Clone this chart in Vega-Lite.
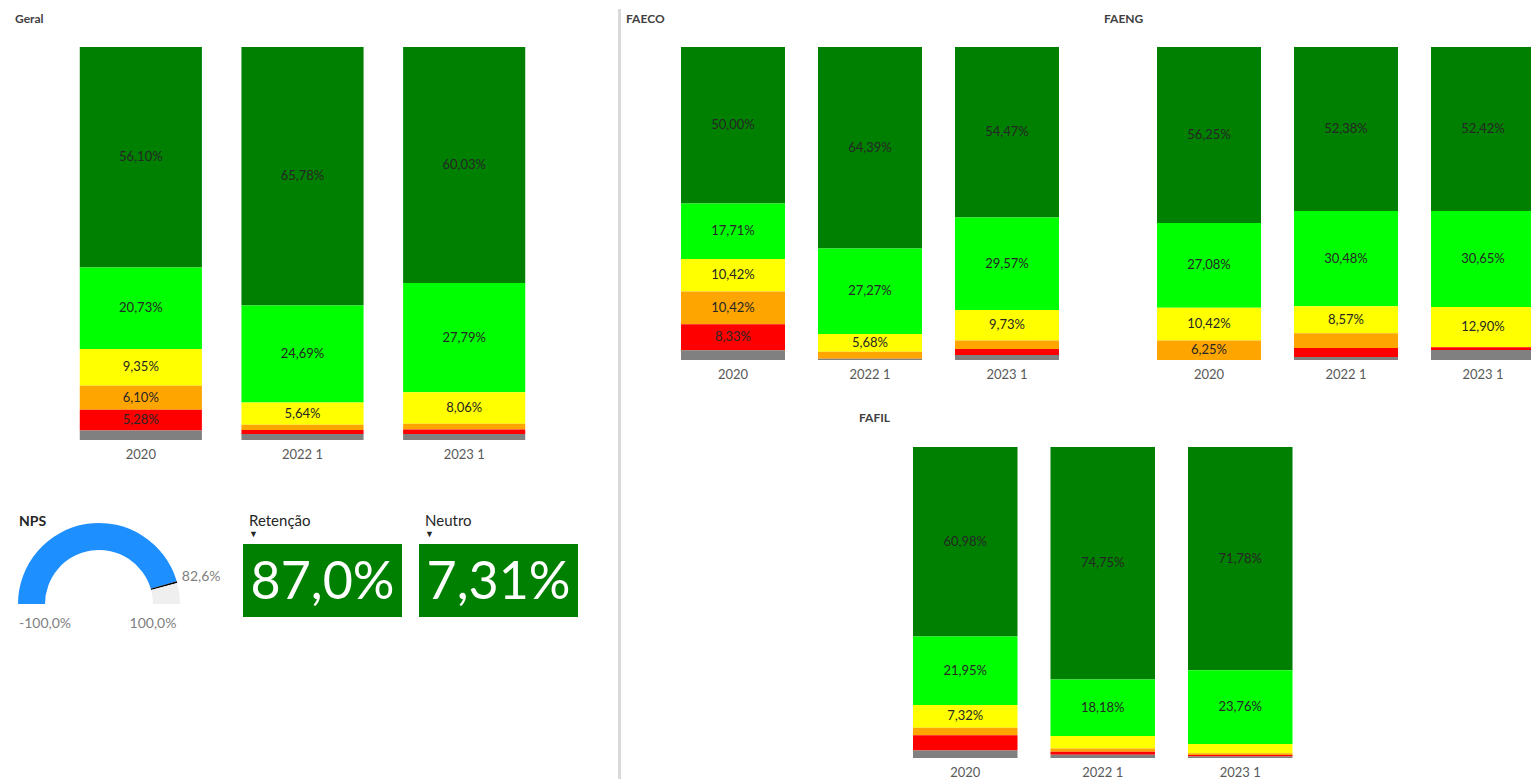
{
  "$schema": "https://vega.github.io/schema/vega-lite/v6.json",
  "padding": {"left": 15, "top": 9, "right": 0, "bottom": 0},
  "background": "white",
  "config": {
    "view": {"stroke": null},
    "font": "Lato",
    "locale": {"number": {"decimal": ",", "thousands": ".", "grouping": [3], "currency": ["R$", ""]}},
    "axis": {"title": null, "domain": false, "ticks": false, "grid": false, "labelAngle": 0, "labelFont": "Lato", "labelFontSize": 13, "labelColor": "#595959", "labelPadding": 8},
    "title": {"font": "Lato", "fontSize": 12, "fontWeight": "bold", "color": "#404040", "anchor": "start", "frame": "group"}
  },
  "datasets": {
    "bars": [
      {"panel": "Geral", "year": "2020", "cat": "Muito satisfeito", "k": 6, "p": 0.5610},
      {"panel": "Geral", "year": "2020", "cat": "Satisfeito", "k": 5, "p": 0.2073},
      {"panel": "Geral", "year": "2020", "cat": "Neutro", "k": 4, "p": 0.0935},
      {"panel": "Geral", "year": "2020", "cat": "Insatisfeito", "k": 3, "p": 0.0610},
      {"panel": "Geral", "year": "2020", "cat": "Muito insatisfeito", "k": 2, "p": 0.0528},
      {"panel": "Geral", "year": "2020", "cat": "Sem resposta", "k": 1, "p": 0.0244},
      {"panel": "Geral", "year": "2022 1", "cat": "Muito satisfeito", "k": 6, "p": 0.6578},
      {"panel": "Geral", "year": "2022 1", "cat": "Satisfeito", "k": 5, "p": 0.2469},
      {"panel": "Geral", "year": "2022 1", "cat": "Neutro", "k": 4, "p": 0.0564},
      {"panel": "Geral", "year": "2022 1", "cat": "Insatisfeito", "k": 3, "p": 0.0137},
      {"panel": "Geral", "year": "2022 1", "cat": "Muito insatisfeito", "k": 2, "p": 0.0102},
      {"panel": "Geral", "year": "2022 1", "cat": "Sem resposta", "k": 1, "p": 0.0150},
      {"panel": "Geral", "year": "2023 1", "cat": "Muito satisfeito", "k": 6, "p": 0.6003},
      {"panel": "Geral", "year": "2023 1", "cat": "Satisfeito", "k": 5, "p": 0.2779},
      {"panel": "Geral", "year": "2023 1", "cat": "Neutro", "k": 4, "p": 0.0806},
      {"panel": "Geral", "year": "2023 1", "cat": "Insatisfeito", "k": 3, "p": 0.0145},
      {"panel": "Geral", "year": "2023 1", "cat": "Muito insatisfeito", "k": 2, "p": 0.0116},
      {"panel": "Geral", "year": "2023 1", "cat": "Sem resposta", "k": 1, "p": 0.0151},

      {"panel": "FAECO", "year": "2020", "cat": "Muito satisfeito", "k": 6, "p": 0.5000},
      {"panel": "FAECO", "year": "2020", "cat": "Satisfeito", "k": 5, "p": 0.1771},
      {"panel": "FAECO", "year": "2020", "cat": "Neutro", "k": 4, "p": 0.1042},
      {"panel": "FAECO", "year": "2020", "cat": "Insatisfeito", "k": 3, "p": 0.1042},
      {"panel": "FAECO", "year": "2020", "cat": "Muito insatisfeito", "k": 2, "p": 0.0833},
      {"panel": "FAECO", "year": "2020", "cat": "Sem resposta", "k": 1, "p": 0.0312},
      {"panel": "FAECO", "year": "2022 1", "cat": "Muito satisfeito", "k": 6, "p": 0.6439},
      {"panel": "FAECO", "year": "2022 1", "cat": "Satisfeito", "k": 5, "p": 0.2727},
      {"panel": "FAECO", "year": "2022 1", "cat": "Neutro", "k": 4, "p": 0.0568},
      {"panel": "FAECO", "year": "2022 1", "cat": "Insatisfeito", "k": 3, "p": 0.0227},
      {"panel": "FAECO", "year": "2022 1", "cat": "Sem resposta", "k": 1, "p": 0.0039},
      {"panel": "FAECO", "year": "2023 1", "cat": "Muito satisfeito", "k": 6, "p": 0.5447},
      {"panel": "FAECO", "year": "2023 1", "cat": "Satisfeito", "k": 5, "p": 0.2957},
      {"panel": "FAECO", "year": "2023 1", "cat": "Neutro", "k": 4, "p": 0.0973},
      {"panel": "FAECO", "year": "2023 1", "cat": "Insatisfeito", "k": 3, "p": 0.0272},
      {"panel": "FAECO", "year": "2023 1", "cat": "Muito insatisfeito", "k": 2, "p": 0.0195},
      {"panel": "FAECO", "year": "2023 1", "cat": "Sem resposta", "k": 1, "p": 0.0156},

      {"panel": "FAENG", "year": "2020", "cat": "Muito satisfeito", "k": 6, "p": 0.5625},
      {"panel": "FAENG", "year": "2020", "cat": "Satisfeito", "k": 5, "p": 0.2708},
      {"panel": "FAENG", "year": "2020", "cat": "Neutro", "k": 4, "p": 0.1042},
      {"panel": "FAENG", "year": "2020", "cat": "Insatisfeito", "k": 3, "p": 0.0625},
      {"panel": "FAENG", "year": "2022 1", "cat": "Muito satisfeito", "k": 6, "p": 0.5238},
      {"panel": "FAENG", "year": "2022 1", "cat": "Satisfeito", "k": 5, "p": 0.3048},
      {"panel": "FAENG", "year": "2022 1", "cat": "Neutro", "k": 4, "p": 0.0857},
      {"panel": "FAENG", "year": "2022 1", "cat": "Insatisfeito", "k": 3, "p": 0.0476},
      {"panel": "FAENG", "year": "2022 1", "cat": "Muito insatisfeito", "k": 2, "p": 0.0286},
      {"panel": "FAENG", "year": "2022 1", "cat": "Sem resposta", "k": 1, "p": 0.0095},
      {"panel": "FAENG", "year": "2023 1", "cat": "Muito satisfeito", "k": 6, "p": 0.5242},
      {"panel": "FAENG", "year": "2023 1", "cat": "Satisfeito", "k": 5, "p": 0.3065},
      {"panel": "FAENG", "year": "2023 1", "cat": "Neutro", "k": 4, "p": 0.1290},
      {"panel": "FAENG", "year": "2023 1", "cat": "Muito insatisfeito", "k": 2, "p": 0.0081},
      {"panel": "FAENG", "year": "2023 1", "cat": "Sem resposta", "k": 1, "p": 0.0323},

      {"panel": "FAFIL", "year": "2020", "cat": "Muito satisfeito", "k": 6, "p": 0.6098},
      {"panel": "FAFIL", "year": "2020", "cat": "Satisfeito", "k": 5, "p": 0.2195},
      {"panel": "FAFIL", "year": "2020", "cat": "Neutro", "k": 4, "p": 0.0732},
      {"panel": "FAFIL", "year": "2020", "cat": "Insatisfeito", "k": 3, "p": 0.0244},
      {"panel": "FAFIL", "year": "2020", "cat": "Muito insatisfeito", "k": 2, "p": 0.0488},
      {"panel": "FAFIL", "year": "2020", "cat": "Sem resposta", "k": 1, "p": 0.0244},
      {"panel": "FAFIL", "year": "2022 1", "cat": "Muito satisfeito", "k": 6, "p": 0.7475},
      {"panel": "FAFIL", "year": "2022 1", "cat": "Satisfeito", "k": 5, "p": 0.1818},
      {"panel": "FAFIL", "year": "2022 1", "cat": "Neutro", "k": 4, "p": 0.0404},
      {"panel": "FAFIL", "year": "2022 1", "cat": "Insatisfeito", "k": 3, "p": 0.0101},
      {"panel": "FAFIL", "year": "2022 1", "cat": "Muito insatisfeito", "k": 2, "p": 0.0101},
      {"panel": "FAFIL", "year": "2022 1", "cat": "Sem resposta", "k": 1, "p": 0.0101},
      {"panel": "FAFIL", "year": "2023 1", "cat": "Muito satisfeito", "k": 6, "p": 0.7178},
      {"panel": "FAFIL", "year": "2023 1", "cat": "Satisfeito", "k": 5, "p": 0.2376},
      {"panel": "FAFIL", "year": "2023 1", "cat": "Neutro", "k": 4, "p": 0.0297},
      {"panel": "FAFIL", "year": "2023 1", "cat": "Insatisfeito", "k": 3, "p": 0.0050},
      {"panel": "FAFIL", "year": "2023 1", "cat": "Muito insatisfeito", "k": 2, "p": 0.0050},
      {"panel": "FAFIL", "year": "2023 1", "cat": "Sem resposta", "k": 1, "p": 0.0050}
    ],
    "gauge": [
      {"part": "NPS", "k": 1, "v": 181.85},
      {"part": "marcador", "k": 2, "v": 1.5},
      {"part": "restante", "k": 3, "v": 16.65},
      {"part": "oculto", "k": 4, "v": 200}
    ]
  },
  "spacing": 40,
  "hconcat": [
    {
      "spacing": 53,
      "vconcat": [
        {
          "width": 530, "height": 393,
          "title": {"text": "Geral", "offset": 21},
          "data": {"name": "bars"},
          "transform": [
            {"filter": "datum.panel === 'Geral'"},
            {"stack": "p", "groupby": ["year"], "sort": [{"field": "k", "order": "ascending"}], "as": ["v0", "v1"]},
            {"calculate": "(datum.v0 + datum.v1) / 2", "as": "mid"}
          ],
          "encoding": {
            "x": {"field": "year", "type": "nominal", "sort": ["2020", "2022 1", "2023 1"], "scale": {"paddingInner": 0.2446, "paddingOuter": 0.1223, "range": [45, 530]}}
          },
          "layer": [
            {"mark": {"type": "bar"},
             "encoding": {
               "y": {"field": "v0", "type": "quantitative", "scale": {"domain": [0, 1], "nice": false}, "axis": null},
               "y2": {"field": "v1"},
               "color": {"field": "cat", "type": "nominal", "scale": {"domain": ["Sem resposta", "Muito insatisfeito", "Insatisfeito", "Neutro", "Satisfeito", "Muito satisfeito"], "range": ["#808080", "#ff0000", "#ffa500", "#ffff00", "#00ff00", "#008000"]}, "legend": null}
             }},
            {"transform": [{"filter": "datum.p >= 0.05"}],
             "mark": {"type": "text", "fontSize": 13, "color": "#262626", "baseline": "middle"},
             "encoding": {
               "y": {"field": "mid", "type": "quantitative"},
               "text": {"field": "p", "type": "quantitative", "format": ".2%"}
             }}
          ]
        },
        {
          "spacing": 22,
          "hconcat": [
            {
              "width": 168, "height": 120,
              "title": {"text": "NPS", "dx": 4, "offset": -6, "fontSize": 14, "color": "#262626"},
              "layer": [
                {"data": {"name": "gauge"},
                 "mark": {"type": "arc", "radius": 81, "radius2": 54},
                 "encoding": {
                   "theta": {"field": "v", "type": "quantitative", "stack": true, "scale": {"domain": [0, 400], "range": [-1.5708, 4.7124]}},
                   "fill": {"field": "part", "type": "nominal", "scale": {"domain": ["NPS", "marcador", "restante", "oculto"], "range": ["#1e8fff", "#000000", "#efefef", "rgba(255,255,255,0)"]}, "legend": null},
                   "order": {"field": "k", "type": "quantitative"}
                 }},
                {"data": {"values": [{"t": 182.6, "rotulo": "82,6%"}]},
                 "mark": {"type": "text", "radius": 86, "align": "left", "baseline": "middle", "dy": -4, "fontSize": 14, "color": "#7f7f7f"},
                 "encoding": {
                   "theta": {"field": "t", "type": "quantitative", "stack": null},
                   "text": {"field": "rotulo", "type": "nominal"}
                 }},
                {"data": {"values": [{"t": 0, "rotulo": "-100,0%"}, {"t": 200, "rotulo": "100,0%"}]},
                 "mark": {"type": "text", "radius": 54, "align": "center", "baseline": "middle", "dy": 20, "fontSize": 14, "color": "#7f7f7f"},
                 "encoding": {
                   "theta": {"field": "t", "type": "quantitative", "stack": null},
                   "text": {"field": "rotulo", "type": "nominal"}
                 }}
              ]
            },
            {
              "spacing": 17,
              "hconcat": [
                {
                  "width": 159, "height": 73,
                  "view": {"fill": "#008000", "stroke": null},
                  "title": {"text": "Retenção", "subtitle": "▼", "dx": 6, "offset": 5, "fontSize": 15, "fontWeight": "normal", "color": "#262626", "subtitleFontSize": 9, "subtitleColor": "#262626", "subtitlePadding": 1},
                  "data": {"values": [{"indicador": "Retenção", "valor": 0.870}]},
                  "mark": {"type": "text", "fontSize": 52, "color": "#ffffff", "baseline": "middle", "dy": 2},
                  "encoding": {"text": {"field": "valor", "type": "quantitative", "format": ".1%"}}
                },
                {
                  "width": 159, "height": 73,
                  "view": {"fill": "#008000", "stroke": null},
                  "title": {"text": "Neutro", "subtitle": "▼", "dx": 6, "offset": 5, "fontSize": 15, "fontWeight": "normal", "color": "#262626", "subtitleFontSize": 9, "subtitleColor": "#262626", "subtitlePadding": 1},
                  "data": {"values": [{"indicador": "Neutro", "valor": 0.0731}]},
                  "mark": {"type": "text", "fontSize": 52, "color": "#ffffff", "baseline": "middle", "dy": 2},
                  "encoding": {"text": {"field": "valor", "type": "quantitative", "format": ".2%"}}
                }
              ]
            }
          ]
        }
      ]
    },
    {
      "spacing": 5,
      "hconcat": [
        {
          "width": 3, "height": 732,
          "data": {"values": [{"de": 0, "ate": 1}]},
          "mark": {"type": "rect", "color": "#d9d9d9"},
          "encoding": {
            "y": {"field": "de", "type": "quantitative", "scale": {"domain": [0, 1], "range": [732, -38]}, "axis": null},
            "y2": {"field": "ate"}
          }
        },
        {
          "spacing": 30,
          "vconcat": [
            {
              "spacing": 28,
              "hconcat": [
                {
                  "width": 450, "height": 313,
                  "title": {"text": "FAECO", "offset": 21},
                  "data": {"name": "bars"},
                  "transform": [
                    {"filter": "datum.panel === 'FAECO'"},
                    {"stack": "p", "groupby": ["year"], "sort": [{"field": "k", "order": "ascending"}], "as": ["v0", "v1"]},
                    {"calculate": "(datum.v0 + datum.v1) / 2", "as": "mid"}
                  ],
                  "encoding": {
                    "x": {"field": "year", "type": "nominal", "sort": ["2020", "2022 1", "2023 1"], "scale": {"paddingInner": 0.2409, "paddingOuter": 0.1205, "range": [38.5, 449.5]}}
                  },
                  "layer": [
                    {"mark": {"type": "bar"},
                     "encoding": {
                       "y": {"field": "v0", "type": "quantitative", "scale": {"domain": [0, 1], "nice": false}, "axis": null},
                       "y2": {"field": "v1"},
                       "color": {"field": "cat", "type": "nominal", "scale": {"domain": ["Sem resposta", "Muito insatisfeito", "Insatisfeito", "Neutro", "Satisfeito", "Muito satisfeito"], "range": ["#808080", "#ff0000", "#ffa500", "#ffff00", "#00ff00", "#008000"]}, "legend": null}
                     }},
                    {"transform": [{"filter": "datum.p >= 0.05"}],
                     "mark": {"type": "text", "fontSize": 13, "color": "#262626", "baseline": "middle"},
                     "encoding": {
                       "y": {"field": "mid", "type": "quantitative"},
                       "text": {"field": "p", "type": "quantitative", "format": ".2%"}
                     }}
                  ]
                },
                {
                  "width": 427, "height": 313,
                  "title": {"text": "FAENG", "offset": 21},
                  "data": {"name": "bars"},
                  "transform": [
                    {"filter": "datum.panel === 'FAENG'"},
                    {"stack": "p", "groupby": ["year"], "sort": [{"field": "k", "order": "ascending"}], "as": ["v0", "v1"]},
                    {"calculate": "(datum.v0 + datum.v1) / 2", "as": "mid"}
                  ],
                  "encoding": {
                    "x": {"field": "year", "type": "nominal", "sort": ["2020", "2022 1", "2023 1"], "scale": {"paddingInner": 0.2409, "paddingOuter": 0.1205, "range": [36.5, 447.5]}}
                  },
                  "layer": [
                    {"mark": {"type": "bar", "clip": true},
                     "encoding": {
                       "y": {"field": "v0", "type": "quantitative", "scale": {"domain": [0, 1], "nice": false}, "axis": null},
                       "y2": {"field": "v1"},
                       "color": {"field": "cat", "type": "nominal", "scale": {"domain": ["Sem resposta", "Muito insatisfeito", "Insatisfeito", "Neutro", "Satisfeito", "Muito satisfeito"], "range": ["#808080", "#ff0000", "#ffa500", "#ffff00", "#00ff00", "#008000"]}, "legend": null}
                     }},
                    {"transform": [{"filter": "datum.p >= 0.05"}],
                     "mark": {"type": "text", "fontSize": 13, "color": "#262626", "baseline": "middle", "clip": true},
                     "encoding": {
                       "y": {"field": "mid", "type": "quantitative"},
                       "text": {"field": "p", "type": "quantitative", "format": ".2%"}
                     }}
                  ]
                }
              ]
            },
            {
              "width": 683, "height": 311,
              "title": {"text": "FAFIL", "dx": 233, "offset": 22},
              "data": {"name": "bars"},
              "transform": [
                {"filter": "datum.panel === 'FAFIL'"},
                {"stack": "p", "groupby": ["year"], "sort": [{"field": "k", "order": "ascending"}], "as": ["v0", "v1"]},
                {"calculate": "(datum.v0 + datum.v1) / 2", "as": "mid"}
              ],
              "encoding": {
                "x": {"field": "year", "type": "nominal", "sort": ["2020", "2022 1", "2023 1"], "scale": {"paddingInner": 0.24, "paddingOuter": 0.12, "range": [270.5, 683]}, "axis": {"labelPadding": 8}}
              },
              "layer": [
                {"mark": {"type": "bar"},
                 "encoding": {
                   "y": {"field": "v0", "type": "quantitative", "scale": {"domain": [0, 1], "nice": false}, "axis": null},
                   "y2": {"field": "v1"},
                   "color": {"field": "cat", "type": "nominal", "scale": {"domain": ["Sem resposta", "Muito insatisfeito", "Insatisfeito", "Neutro", "Satisfeito", "Muito satisfeito"], "range": ["#808080", "#ff0000", "#ffa500", "#ffff00", "#00ff00", "#008000"]}, "legend": null}
                 }},
                {"transform": [{"filter": "datum.p >= 0.05"}],
                 "mark": {"type": "text", "fontSize": 13, "color": "#262626", "baseline": "middle"},
                 "encoding": {
                   "y": {"field": "mid", "type": "quantitative"},
                   "text": {"field": "p", "type": "quantitative", "format": ".2%"}
                 }}
              ]
            }
          ]
        }
      ]
    }
  ]
}
